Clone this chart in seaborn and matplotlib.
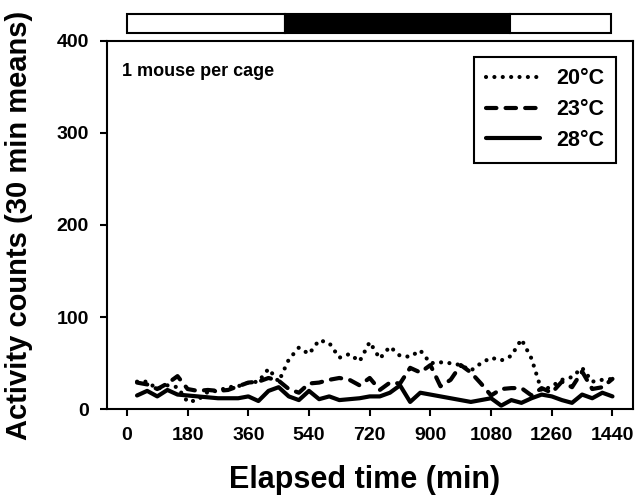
import pandas as pd
import seaborn as sns
import matplotlib.pyplot as plt

# 30 min bins over 24 h
minutes = [30, 60, 90, 120, 150, 180, 210, 240, 270, 300, 330, 360,
           390, 420, 450, 480, 510, 540, 570, 600, 630, 660, 690, 720,
           750, 780, 810, 840, 870, 900, 930, 960, 990, 1020, 1050, 1080,
           1110, 1140, 1170, 1200, 1230, 1260, 1290, 1320, 1350, 1380, 1410, 1440]

temp_20 = [30, 30, 22, 26, 24, 8, 10, 19, 20, 24, 25, 29,
           30, 44, 30, 54, 67, 60, 75, 72, 56, 60, 52, 73,
           55, 68, 58, 57, 64, 50, 51, 50, 48, 42, 50, 56,
           53, 58, 76, 55, 20, 25, 32, 35, 45, 30, 32, 33]

temp_23 = [29, 27, 22, 28, 36, 22, 20, 21, 20, 21, 25, 29,
           30, 34, 31, 22, 18, 28, 29, 32, 34, 32, 26, 34,
           21, 29, 28, 45, 40, 48, 25, 32, 48, 40, 28, 15,
           22, 23, 23, 15, 23, 18, 30, 24, 41, 22, 24, 33]

temp_28 = [15, 20, 14, 21, 16, 15, 14, 13, 12, 12, 12, 14,
           9, 20, 24, 14, 10, 20, 11, 14, 10, 11, 12, 14,
           14, 18, 26, 8, 18, 16, 14, 12, 10, 8, 10, 12,
           4, 10, 7, 12, 16, 14, 10, 7, 16, 12, 18, 14]

labels = ['20°C', '23°C', '28°C']
x_ticks = [0, 180, 360, 540, 720, 900, 1080, 1260, 1440]
y_ticks = [0, 100, 200, 300, 400]

# light / dark bar
phase_start = [0, 470, 1135]
phase_len = [470, 665, 300]
phase_color = ['white', 'black', 'white']

sns.set_theme(style='ticks')
plt.rcParams['font.family'] = ['Liberation Sans', 'DejaVu Sans']
plt.rcParams['font.weight'] = 'bold'
plt.rcParams['text.color'] = 'black'
plt.rcParams['axes.labelcolor'] = 'black'

n = len(minutes)
df = pd.DataFrame({
    'min': minutes * 3,
    'counts': temp_20 + temp_23 + temp_28,
    'temp': [labels[0]] * n + [labels[1]] * n + [labels[2]] * n,
})

fig = plt.figure(figsize=(6.4, 4.98), dpi=100)
ax = fig.add_axes([0.1667, 0.1781, 0.8219, 0.7402])

lw = 3.0
sns.lineplot(data=df, x='min', y='counts', hue='temp', style='temp',
             palette=['black'] * 3,
             dashes={labels[0]: (0.01, 2.0), labels[1]: (2.5, 2.2), labels[2]: ''},
             linewidth=lw, ax=ax)
for line in ax.lines:
    line.set_dash_capstyle('round')
    line.set_solid_capstyle('round')

handles, _ = ax.get_legend_handles_labels()
for h in handles:
    h.set_dash_capstyle('round')
    h.set_linewidth(lw)
ax.legend(handles, labels, loc='upper right', bbox_to_anchor=(0.968, 0.957),
          borderaxespad=0, fontsize=15.5, frameon=True, fancybox=False,
          edgecolor='black', framealpha=1, handlelength=2.5,
          handletextpad=0.75, labelspacing=0.45, borderpad=0.55)
ax.get_legend().get_frame().set_linewidth(1.5)

ax.set_xlim(-60, 1500)
ax.set_ylim(0, 400)
ax.set_xticks(x_ticks)
ax.set_yticks(y_ticks)
ax.tick_params(direction='out', length=5, width=1.5, pad=8, labelsize=14, colors='black')
for s in ax.spines.values():
    s.set_visible(True)
    s.set_linewidth(1.5)
    s.set_color('black')

ax.set_xlabel('Elapsed time (min)', fontsize=22, fontweight='bold')
ax.set_ylabel('Activity counts (30 min means)', fontsize=21, fontweight='bold')
ax.xaxis.set_label_coords(0.49, -0.15)
ax.yaxis.set_label_coords(-0.14, 0.5)

ax.text(0.0285, 0.905, '1 mouse per cage', transform=ax.transAxes,
        fontsize=13, fontweight='bold', va='baseline', ha='left')

ax_bar = fig.add_axes([0.1667, 0.9337, 0.8219, 0.0382])
ax_bar.barh(0, phase_len, left=phase_start, color=phase_color,
            edgecolor='black', height=1, linewidth=1.5, clip_on=False)
ax_bar.set_xlim(-60, 1500)
ax_bar.set_ylim(-0.5, 0.5)
ax_bar.axis('off')

fig.savefig('out.png', dpi=100)
